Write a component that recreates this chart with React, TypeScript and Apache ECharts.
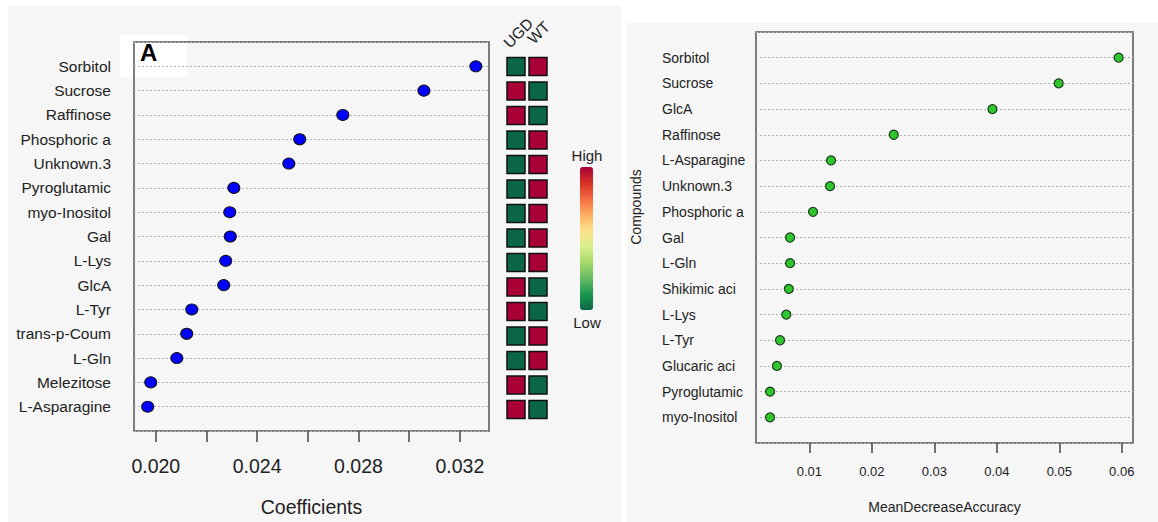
import React, { useEffect, useRef } from "react";
import * as echarts from "echarts";

// ---- Data ----
const leftCompounds = [
  "Sorbitol", "Sucrose", "Raffinose", "Phosphoric a", "Unknown.3", "Pyroglutamic",
  "myo-Inositol", "Gal", "L-Lys", "GlcA", "L-Tyr", "trans-p-Coum", "L-Gln",
  "Melezitose", "L-Asparagine",
];
const leftCoefficients = [
  0.03263, 0.03058, 0.02738, 0.02568, 0.02525, 0.02308, 0.02292, 0.02294,
  0.02276, 0.02268, 0.02142, 0.02122, 0.02083, 0.0198, 0.01968,
];
const heatColumns = ["UGD", "WT"];
// 1 = High, 0 = Low
const heatUGD = [0, 1, 1, 0, 0, 0, 0, 0, 0, 1, 1, 0, 0, 1, 1];
const heatWT = [1, 0, 0, 1, 1, 1, 1, 1, 1, 0, 0, 1, 1, 0, 0];
const legendColors = [
  "#0b6645", "#1a9850", "#66bd63", "#a6d96a", "#d9ef8b", "#fee08b",
  "#fdae61", "#f46d43", "#d73027", "#a80036",
];
const leftTicks = [0.02, 0.022, 0.024, 0.026, 0.028, 0.03, 0.032];
const leftTickLabels = [0.02, 0.024, 0.028, 0.032];

const rightCompounds = [
  "Sorbitol", "Sucrose", "GlcA", "Raffinose", "L-Asparagine", "Unknown.3",
  "Phosphoric a", "Gal", "L-Gln", "Shikimic aci", "L-Lys", "L-Tyr",
  "Glucaric aci", "Pyroglutamic", "myo-Inositol",
];
const rightMDA = [
  0.0595, 0.0499, 0.0393, 0.0235, 0.01346, 0.0133, 0.01058, 0.0069, 0.0069,
  0.0067, 0.0063, 0.0053, 0.0048, 0.0037, 0.0037,
];
const rightTicks = [0.01, 0.02, 0.03, 0.04, 0.05, 0.06];

const FONT = "'Liberation Sans', Arial, Helvetica, sans-serif";

export default function App() {
  const ref = useRef<HTMLDivElement>(null);

  useEffect(() => {
    document.body.style.margin = "0";
    const chart = echarts.init(ref.current!, null, { renderer: "svg" });
    const nL = leftCompounds.length;
    const nR = rightCompounds.length;

    const leftData = leftCoefficients.map((v, i) => [v, nL - i]);
    const rightData = rightMDA.map((v, i) => [v, nR - i]);
    const heatData: number[][] = [];
    leftCompounds.forEach((_, i) => {
      heatData.push([0, nL - i, heatUGD[i]]);
      heatData.push([1, nL - i, heatWT[i]]);
    });

    const dotted = { show: true, lineStyle: { color: "#b4b4b4", type: [2, 2] as any, width: 1 } };

    chart.setOption({
      animation: false,
      backgroundColor: "#ffffff",
      textStyle: { fontFamily: FONT },
      grid: [
        { left: 134, top: 42, width: 355, height: 392, show: true, borderColor: "#555", borderWidth: 1.5, backgroundColor: "transparent" },
        { left: 756, top: 32, width: 377, height: 411, show: true, borderColor: "#555", borderWidth: 1.5, backgroundColor: "transparent" },
        { left: 505, top: 42, width: 44, height: 392, show: false },
      ],
      xAxis: [
        {
          gridIndex: 0, type: "value", min: 0.01914, max: 0.03315,
          axisLine: { show: false },
          axisTick: { show: true, customValues: leftTicks, length: 11, lineStyle: { color: "#444", width: 1.5 } },
          axisLabel: {
            customValues: leftTickLabels, formatter: (v: number) => v.toFixed(3),
            fontSize: 19.5, margin: 25, color: "#222", fontFamily: FONT,
          },
          splitLine: { show: false },
          name: "Coefficients", nameLocation: "middle", nameGap: 66,
          nameTextStyle: { fontSize: 19.5, color: "#222", fontFamily: FONT },
        },
        {
          gridIndex: 1, type: "value", min: 0.00145, max: 0.0618,
          axisLine: { show: false },
          axisTick: { show: true, customValues: rightTicks, length: 10, lineStyle: { color: "#444", width: 1.5 } },
          axisLabel: {
            customValues: rightTicks, formatter: (v: number) => v.toFixed(2),
            fontSize: 13, margin: 22, color: "#222", fontFamily: FONT,
          },
          splitLine: { show: false },
          name: "MeanDecreaseAccuracy", nameLocation: "middle", nameGap: 57,
          nameTextStyle: { fontSize: 14, color: "#222", fontFamily: FONT },
        },
        { gridIndex: 2, type: "category", data: heatColumns, show: false },
      ],
      yAxis: [
        {
          gridIndex: 0, type: "value", min: 0, max: nL + 1, interval: 1,
          axisLine: { show: false }, axisTick: { show: false },
          axisLabel: {
            formatter: (v: number) => (v >= 1 && v <= nL ? leftCompounds[nL - v] : ""),
            fontSize: 15.5, margin: 23, color: "#222", fontFamily: FONT,
          },
          splitLine: dotted,
        },
        {
          gridIndex: 1, type: "value", min: 0, max: nR + 1, interval: 1,
          axisLine: { show: false }, axisTick: { show: false },
          axisLabel: {
            formatter: (v: number) => (v >= 1 && v <= nR ? rightCompounds[nR - v] : ""),
            fontSize: 14, margin: 94, align: "left", color: "#222", fontFamily: FONT,
          },
          splitLine: dotted,
        },
        { gridIndex: 2, type: "value", min: 0, max: nL + 1, show: false },
      ],
      visualMap: {
        type: "continuous",
        seriesIndex: 2,
        dimension: 2,
        min: 0, max: 1,
        left: 580, top: 167,
        itemWidth: 13, itemHeight: 143,
        padding: 0,
        calculable: false,
        text: null as any,
        inRange: { color: legendColors },
      },
      series: [
        {
          type: "scatter", xAxisIndex: 0, yAxisIndex: 0, data: leftData,
          symbol: "circle", symbolSize: [12, 11],
          itemStyle: { color: "#0000ff", borderColor: "#111", borderWidth: 1, opacity: 1 },
          z: 5,
        },
        {
          type: "scatter", xAxisIndex: 1, yAxisIndex: 1, data: rightData,
          symbol: "circle", symbolSize: 9,
          itemStyle: { color: "#2ec72e", borderColor: "#1d3b1d", borderWidth: 1.2, opacity: 1 },
          z: 5,
        },
        {
          type: "scatter", xAxisIndex: 2, yAxisIndex: 2, data: heatData,
          symbol: "rect", symbolSize: 18,
          itemStyle: { borderColor: "#111", borderWidth: 1.5, opacity: 1 },
          z: 5,
        },
      ],
      graphic: [
        { type: "rect", shape: { x: 8, y: 6, width: 613, height: 516 }, style: { fill: "#f6f6f6" }, z: -10, silent: true },
        { type: "rect", shape: { x: 627, y: 23, width: 531, height: 499 }, style: { fill: "#f6f6f6" }, z: -10, silent: true },
        { type: "rect", shape: { x: 120, y: 35, width: 67, height: 42 }, style: { fill: "#ffffff" }, z: -5, silent: true },
        {
          type: "text", x: 140, y: 64, z: 10,
          style: { text: "A", fontSize: 24, fontWeight: "bold", fontFamily: FONT, fill: "#000", align: "left", verticalAlign: "bottom" },
        },
        {
          type: "text", x: 506, y: 45, rotation: Math.PI / 4, z: 10,
          style: { text: heatColumns[0], fontSize: 15.5, fontFamily: FONT, fill: "#222", align: "left", verticalAlign: "middle" },
        },
        {
          type: "text", x: 530, y: 41, rotation: Math.PI / 4, z: 10,
          style: { text: heatColumns[1], fontSize: 15.5, fontFamily: FONT, fill: "#222", align: "left", verticalAlign: "middle" },
        },
        {
          type: "text", x: 587, y: 155, z: 10,
          style: { text: "High", fontSize: 15, fontFamily: FONT, fill: "#222", align: "center", verticalAlign: "middle" },
        },
        {
          type: "text", x: 587, y: 322, z: 10,
          style: { text: "Low", fontSize: 15, fontFamily: FONT, fill: "#222", align: "center", verticalAlign: "middle" },
        },
        {
          type: "text", x: 636, y: 207, rotation: Math.PI / 2, z: 10,
          style: { text: "Compounds", fontSize: 14, fontFamily: FONT, fill: "#222", align: "center", verticalAlign: "middle" },
        },
      ],
    });

    return () => chart.dispose();
  }, []);

  return <div ref={ref} style={{ width: 1158, height: 522 }} />;
}
